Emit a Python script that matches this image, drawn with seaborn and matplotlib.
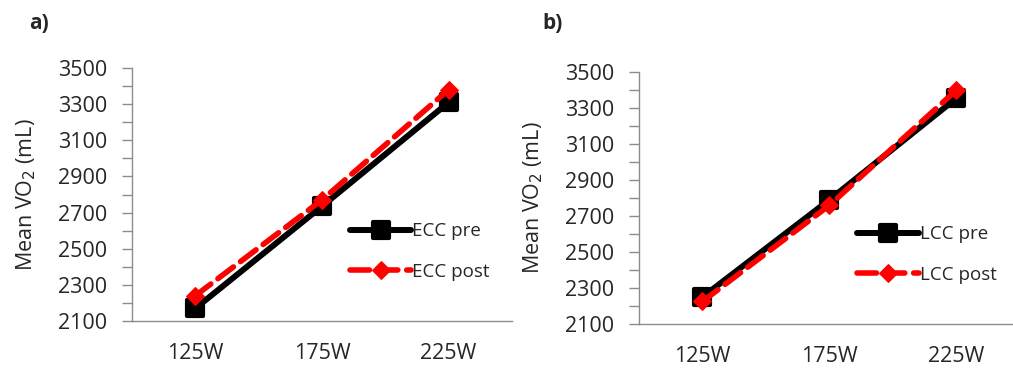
import matplotlib
matplotlib.use("Agg")
import matplotlib.pyplot as plt
from matplotlib.markers import MarkerStyle
import seaborn as sns
import pandas as pd

# Workload levels and mean VO2 (mL) per condition
workloads = ["125W", "175W", "225W"]
ecc_pre = [2170, 2735, 3310]
ecc_post = [2240, 2770, 3380]
lcc_pre = [2250, 2790, 3355]
lcc_post = [2225, 2760, 3400]

y_ticks = [2100, 2300, 2500, 2700, 2900, 3100, 3300, 3500]

sns.set_theme(style="white")
plt.rcParams["font.family"] = ["Open Sans", "DejaVu Sans"]

fig = plt.figure(figsize=(10.13, 3.69), dpi=100)
ax_a = fig.add_axes([0.1303, 0.130, 0.3751, 0.6857])
ax_b = fig.add_axes([0.6308, 0.122, 0.3761, 0.6829])

square = MarkerStyle("s", joinstyle="round")


def draw_panel(ax, pre, post, pre_label, post_label):
    df_pre = pd.DataFrame({"load": workloads, "vo2": pre})
    df_post = pd.DataFrame({"load": workloads, "vo2": post})
    sns.lineplot(data=df_pre, x="load", y="vo2", ax=ax, color="black",
                 linewidth=4.3, marker=square, markersize=11,
                 markeredgewidth=3, markeredgecolor="black",
                 label=pre_label, sort=False)
    sns.lineplot(data=df_post, x="load", y="vo2", ax=ax, color="#ff0000",
                 linewidth=4.0, marker="D", markersize=9.5,
                 markeredgecolor="#ff0000", label=post_label, sort=False,
                 dashes=False)
    ax.lines[1].set_dashes((3.5, 1.6))
    ax.lines[1].set_dash_capstyle("round")

    ax.set_xlim(-0.5, 2.5)
    ax.set_ylim(2100, 3500)
    ax.set_yticks(y_ticks)
    ax.set_yticks(range(2100, 3501, 100), minor=True)
    ax.tick_params(axis="y", which="both", direction="out", length=7,
                   width=1, color="#8c8c8c", left=True, labelsize=15.5,
                   pad=11)
    ax.tick_params(axis="x", length=0, labelsize=15.5, pad=16)
    for s in ("top", "right"):
        ax.spines[s].set_visible(False)
    for s in ("left", "bottom"):
        ax.spines[s].set_color("#8c8c8c")
        ax.spines[s].set_linewidth(1)
    ax.set_xlabel("")
    ax.set_ylabel("Mean VO$_2$ (mL)", fontsize=15.5, labelpad=14)
    ax.legend(loc="center left", bbox_to_anchor=(0.548, 0.275),
              frameon=False, fontsize=13.5, handlelength=3.3,
              handletextpad=0.05, labelspacing=1.2, borderpad=0)


draw_panel(ax_a, ecc_pre, ecc_post, "ECC pre", "ECC post")
draw_panel(ax_b, lcc_pre, lcc_post, "LCC pre", "LCC post")

fig.text(0.029, 0.935, "a)", fontsize=15, fontweight="bold",
         ha="left", va="center")
fig.text(0.535, 0.935, "b)", fontsize=15, fontweight="bold",
         ha="left", va="center")

fig.savefig("out.png", dpi=100)
